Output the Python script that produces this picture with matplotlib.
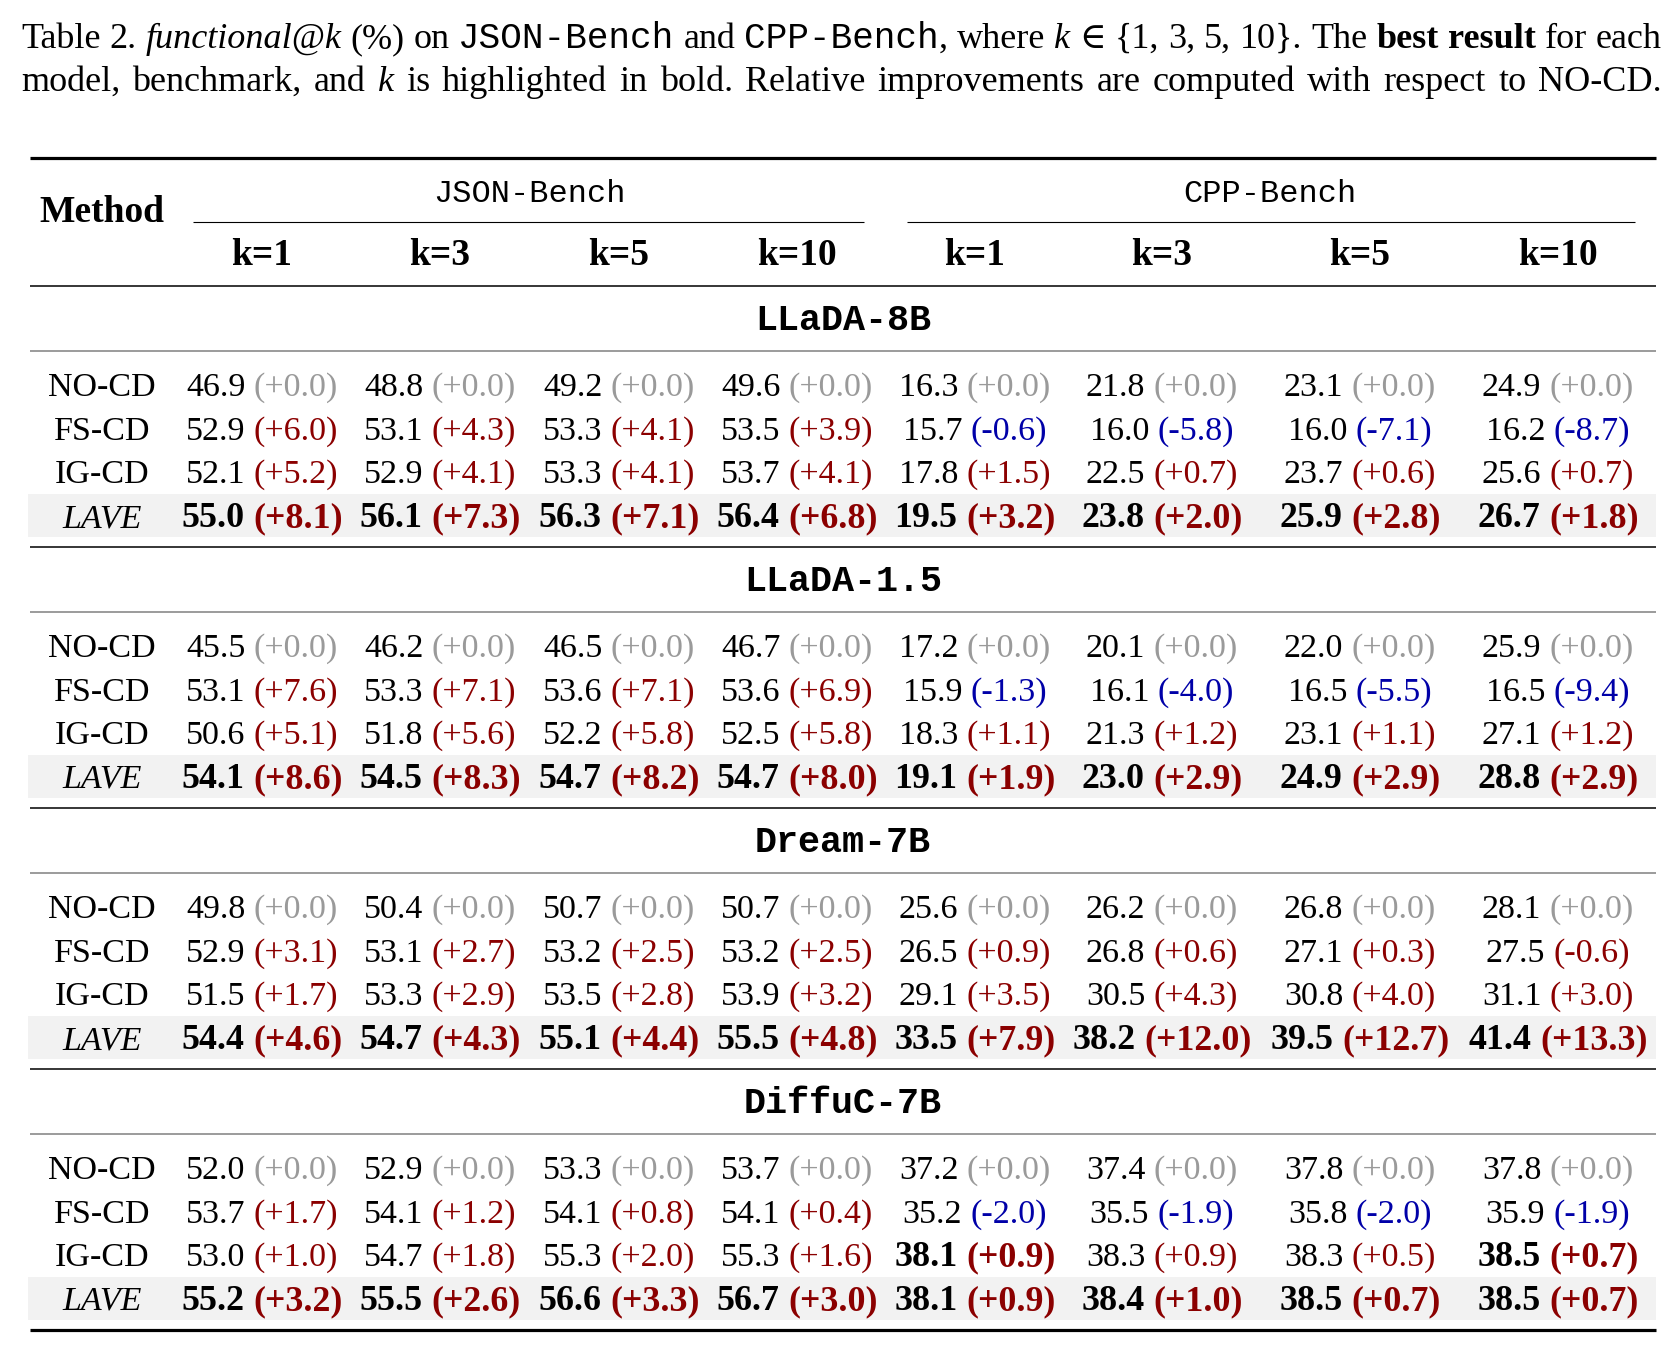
import matplotlib
matplotlib.use('Agg')
import matplotlib.pyplot as plt
from matplotlib.patches import Rectangle

# ---------------- data ----------------
models = ['LLaDA-8B', 'LLaDA-1.5', 'Dream-7B', 'DiffuC-7B']
methods = ['NO-CD', 'FS-CD', 'IG-CD', 'LAVE']
benches = ['JSON-Bench', 'CPP-Bench']
ks = [1, 3, 5, 10]

# each row: JSON k=1,3,5,10 then CPP k=1,3,5,10
llada8b_vals = [
    [46.9, 48.8, 49.2, 49.6, 16.3, 21.8, 23.1, 24.9],
    [52.9, 53.1, 53.3, 53.5, 15.7, 16.0, 16.0, 16.2],
    [52.1, 52.9, 53.3, 53.7, 17.8, 22.5, 23.7, 25.6],
    [55.0, 56.1, 56.3, 56.4, 19.5, 23.8, 25.9, 26.7],
]
llada8b_delta = [
    [0.0, 0.0, 0.0, 0.0, 0.0, 0.0, 0.0, 0.0],
    [6.0, 4.3, 4.1, 3.9, -0.6, -5.8, -7.1, -8.7],
    [5.2, 4.1, 4.1, 4.1, 1.5, 0.7, 0.6, 0.7],
    [8.1, 7.3, 7.1, 6.8, 3.2, 2.0, 2.8, 1.8],
]
llada15_vals = [
    [45.5, 46.2, 46.5, 46.7, 17.2, 20.1, 22.0, 25.9],
    [53.1, 53.3, 53.6, 53.6, 15.9, 16.1, 16.5, 16.5],
    [50.6, 51.8, 52.2, 52.5, 18.3, 21.3, 23.1, 27.1],
    [54.1, 54.5, 54.7, 54.7, 19.1, 23.0, 24.9, 28.8],
]
llada15_delta = [
    [0.0, 0.0, 0.0, 0.0, 0.0, 0.0, 0.0, 0.0],
    [7.6, 7.1, 7.1, 6.9, -1.3, -4.0, -5.5, -9.4],
    [5.1, 5.6, 5.8, 5.8, 1.1, 1.2, 1.1, 1.2],
    [8.6, 8.3, 8.2, 8.0, 1.9, 2.9, 2.9, 2.9],
]
dream7b_vals = [
    [49.8, 50.4, 50.7, 50.7, 25.6, 26.2, 26.8, 28.1],
    [52.9, 53.1, 53.2, 53.2, 26.5, 26.8, 27.1, 27.5],
    [51.5, 53.3, 53.5, 53.9, 29.1, 30.5, 30.8, 31.1],
    [54.4, 54.7, 55.1, 55.5, 33.5, 38.2, 39.5, 41.4],
]
dream7b_delta = [
    [0.0, 0.0, 0.0, 0.0, 0.0, 0.0, 0.0, 0.0],
    [3.1, 2.7, 2.5, 2.5, 0.9, 0.6, 0.3, -0.6],
    [1.7, 2.9, 2.8, 3.2, 3.5, 4.3, 4.0, 3.0],
    [4.6, 4.3, 4.4, 4.8, 7.9, 12.0, 12.7, 13.3],
]
diffuc7b_vals = [
    [52.0, 52.9, 53.3, 53.7, 37.2, 37.4, 37.8, 37.8],
    [53.7, 54.1, 54.1, 54.1, 35.2, 35.5, 35.8, 35.9],
    [53.0, 54.7, 55.3, 55.3, 38.1, 38.3, 38.3, 38.5],
    [55.2, 55.5, 56.6, 56.7, 38.1, 38.4, 38.5, 38.5],
]
diffuc7b_delta = [
    [0.0, 0.0, 0.0, 0.0, 0.0, 0.0, 0.0, 0.0],
    [1.7, 1.2, 0.8, 0.4, -2.0, -1.9, -2.0, -1.9],
    [1.0, 1.8, 2.0, 1.6, 0.9, 0.9, 0.5, 0.7],
    [3.2, 2.6, 3.3, 3.0, 0.9, 1.0, 0.7, 0.7],
]
all_vals = [llada8b_vals, llada15_vals, dream7b_vals, diffuc7b_vals]
all_delta = [llada8b_delta, llada15_delta, dream7b_delta, diffuc7b_delta]
# cell printed in red although negative in the source table: (model, method, column)
red_negative = [(2, 1, 7)]

# ---------------- styling ----------------
W, H = 1681, 1352
SERIF = ['Liberation Serif', 'DejaVu Serif']
MONO = ['Liberation Mono', 'DejaVu Sans Mono']
RED = '#8B0000'
BLUE = '#0000A8'
GRAY = '#9A9A9A'
SHADE = '#F2F2F2'
FS = 24.5          # regular table text size (pt)
FS_B = 25.8        # bold table text size (pt)
FS_H = 27.0        # bold header size
CAP_FS = 26.0

fig = plt.figure(figsize=(W / 100, H / 100), dpi=100)
ax = fig.add_axes([0, 0, 1, 1])
ax.set_xlim(0, W)
ax.set_ylim(H, 0)
ax.axis('off')
renderer = fig.canvas.get_renderer()


def tw(t):
    return t.get_window_extent(renderer).width


STY = {
    'reg': dict(family=SERIF),
    'it': dict(family=SERIF, style='italic'),
    'bf': dict(family=SERIF, weight='bold'),
    'tt': dict(family=MONO),
}

# ---------------- caption (justified) ----------------
cap_lines = [
    [[('Table', 'reg')], [('2.', 'reg')], [('functional@k', 'it')], [('(%)', 'reg')], [('on', 'reg')],
     [('JSON-Bench', 'tt')], [('and', 'reg')], [('CPP-Bench', 'tt'), (',', 'reg')], [('where', 'reg')],
     [('k', 'it')], [('\u2208', 'reg')], [('{1,', 'reg')], [('3,', 'reg')], [('5,', 'reg')],
     [('10}.', 'reg')], [('The', 'reg')], [('best', 'bf')], [('result', 'bf')], [('for', 'reg')],
     [('each', 'reg')]],
    [[('model,', 'reg')], [('benchmark,', 'reg')], [('and', 'reg')], [('k', 'it')], [('is', 'reg')],
     [('highlighted', 'reg')], [('in', 'reg')], [('bold.', 'reg')], [('Relative', 'reg')],
     [('improvements', 'reg')], [('are', 'reg')], [('computed', 'reg')], [('with', 'reg')],
     [('respect', 'reg')], [('to', 'reg')], [('NO-CD.', 'reg')]],
]
cap_base = [48, 91]
cap_x0, cap_x1 = 21, 1662
for line, yb in zip(cap_lines, cap_base):
    words = []
    for word in line:
        segs = []
        for txt, st in word:
            t = ax.text(0, yb, txt, fontsize=CAP_FS, ha='left', va='baseline', **STY[st])
            segs.append((t, tw(t)))
        words.append(segs)
    widths = [sum(w for _, w in segs) for segs in words]
    gap = (cap_x1 - cap_x0 - sum(widths)) / (len(words) - 1)
    x = cap_x0
    for segs, wsum in zip(words, widths):
        xx = x
        for t, w in segs:
            t.set_x(xx)
            xx += w
        x += wsum + gap

# ---------------- table geometry ----------------
TX0, TX1 = 30, 1656
col_x = [262, 440, 619, 797, 975, 1162, 1360, 1558]
meth_x = 102

def hline(y, x0=TX0, x1=TX1, lw=1.0, color='black'):
    ax.plot([x0, x1], [y, y], color=color, lw=lw, solid_capstyle='butt')

hline(158, lw=2.3)
hline(222, 193, 864, lw=0.8)
hline(222, 907, 1635, lw=0.8)
hline(286, lw=1.1)

ax.text(529, 202, benches[0], fontsize=23, ha='center', va='baseline', family=MONO)
ax.text(1270, 202, benches[1], fontsize=23, ha='center', va='baseline', family=MONO)
ax.text(meth_x, 222, 'Method', fontsize=FS_H, ha='center', va='baseline', family=SERIF, weight='bold')
for j, cx in enumerate(col_x):
    ax.text(cx, 265, f'k={ks[j % 4]}', fontsize=FS_H, ha='center', va='baseline',
            family=SERIF, weight='bold')

block_top = [319, 580, 841, 1102]
row_off = [65, 109, 152, 196]

for m, (mname, vals, dels) in enumerate(zip(models, all_vals, all_delta)):
    yt = block_top[m]
    ax.text((TX0 + TX1) / 2, yt + 11, mname, fontsize=26.5, ha='center', va='baseline',
            family=MONO, weight='bold')
    hline(yt + 32, lw=1.2, color='#8A8A8A')
    # shaded LAVE row
    ly = yt + row_off[3]
    ax.add_patch(Rectangle((TX0 - 2, ly - 21), TX1 - TX0 + 2, 43, facecolor=SHADE,
                           edgecolor='none', zorder=0))
    # best per column
    best = [max(vals[r][c] for r in range(len(methods))) for c in range(8)]
    for r, meth in enumerate(methods):
        yc = yt + row_off[r]
        yb = yc + 12
        ax.text(meth_x, yb, meth, fontsize=FS, ha='center', va='baseline', family=SERIF,
                style='italic' if meth == 'LAVE' else 'normal')
        for c in range(8):
            v = vals[r][c]
            d = dels[r][c]
            isbest = v == best[c]
            wt = 'bold' if isbest else 'normal'
            fs = FS_B if isbest else FS
            if d == 0:
                col = GRAY
            elif d > 0 or (m, r, c) in red_negative:
                col = RED
            else:
                col = BLUE
            t1 = ax.text(0, yb, f'{v:.1f}', fontsize=fs, ha='left', va='baseline',
                         family=SERIF, weight=wt, color='black')
            t2 = ax.text(0, yb, f'({d:+.1f})', fontsize=fs, ha='left', va='baseline',
                         family=SERIF, weight=wt, color=col)
            w1, w2 = tw(t1), tw(t2)
            sp = fs * 100 / 72 * 0.25
            x0 = col_x[c] - (w1 + sp + w2) / 2
            t1.set_x(x0)
            t2.set_x(x0 + w1 + sp)
    if m < len(models) - 1:
        hline(yt + 228, lw=1.1)
    else:
        hline(yt + 228, lw=2.3)

fig.savefig('out.png', dpi=100, facecolor='white')
